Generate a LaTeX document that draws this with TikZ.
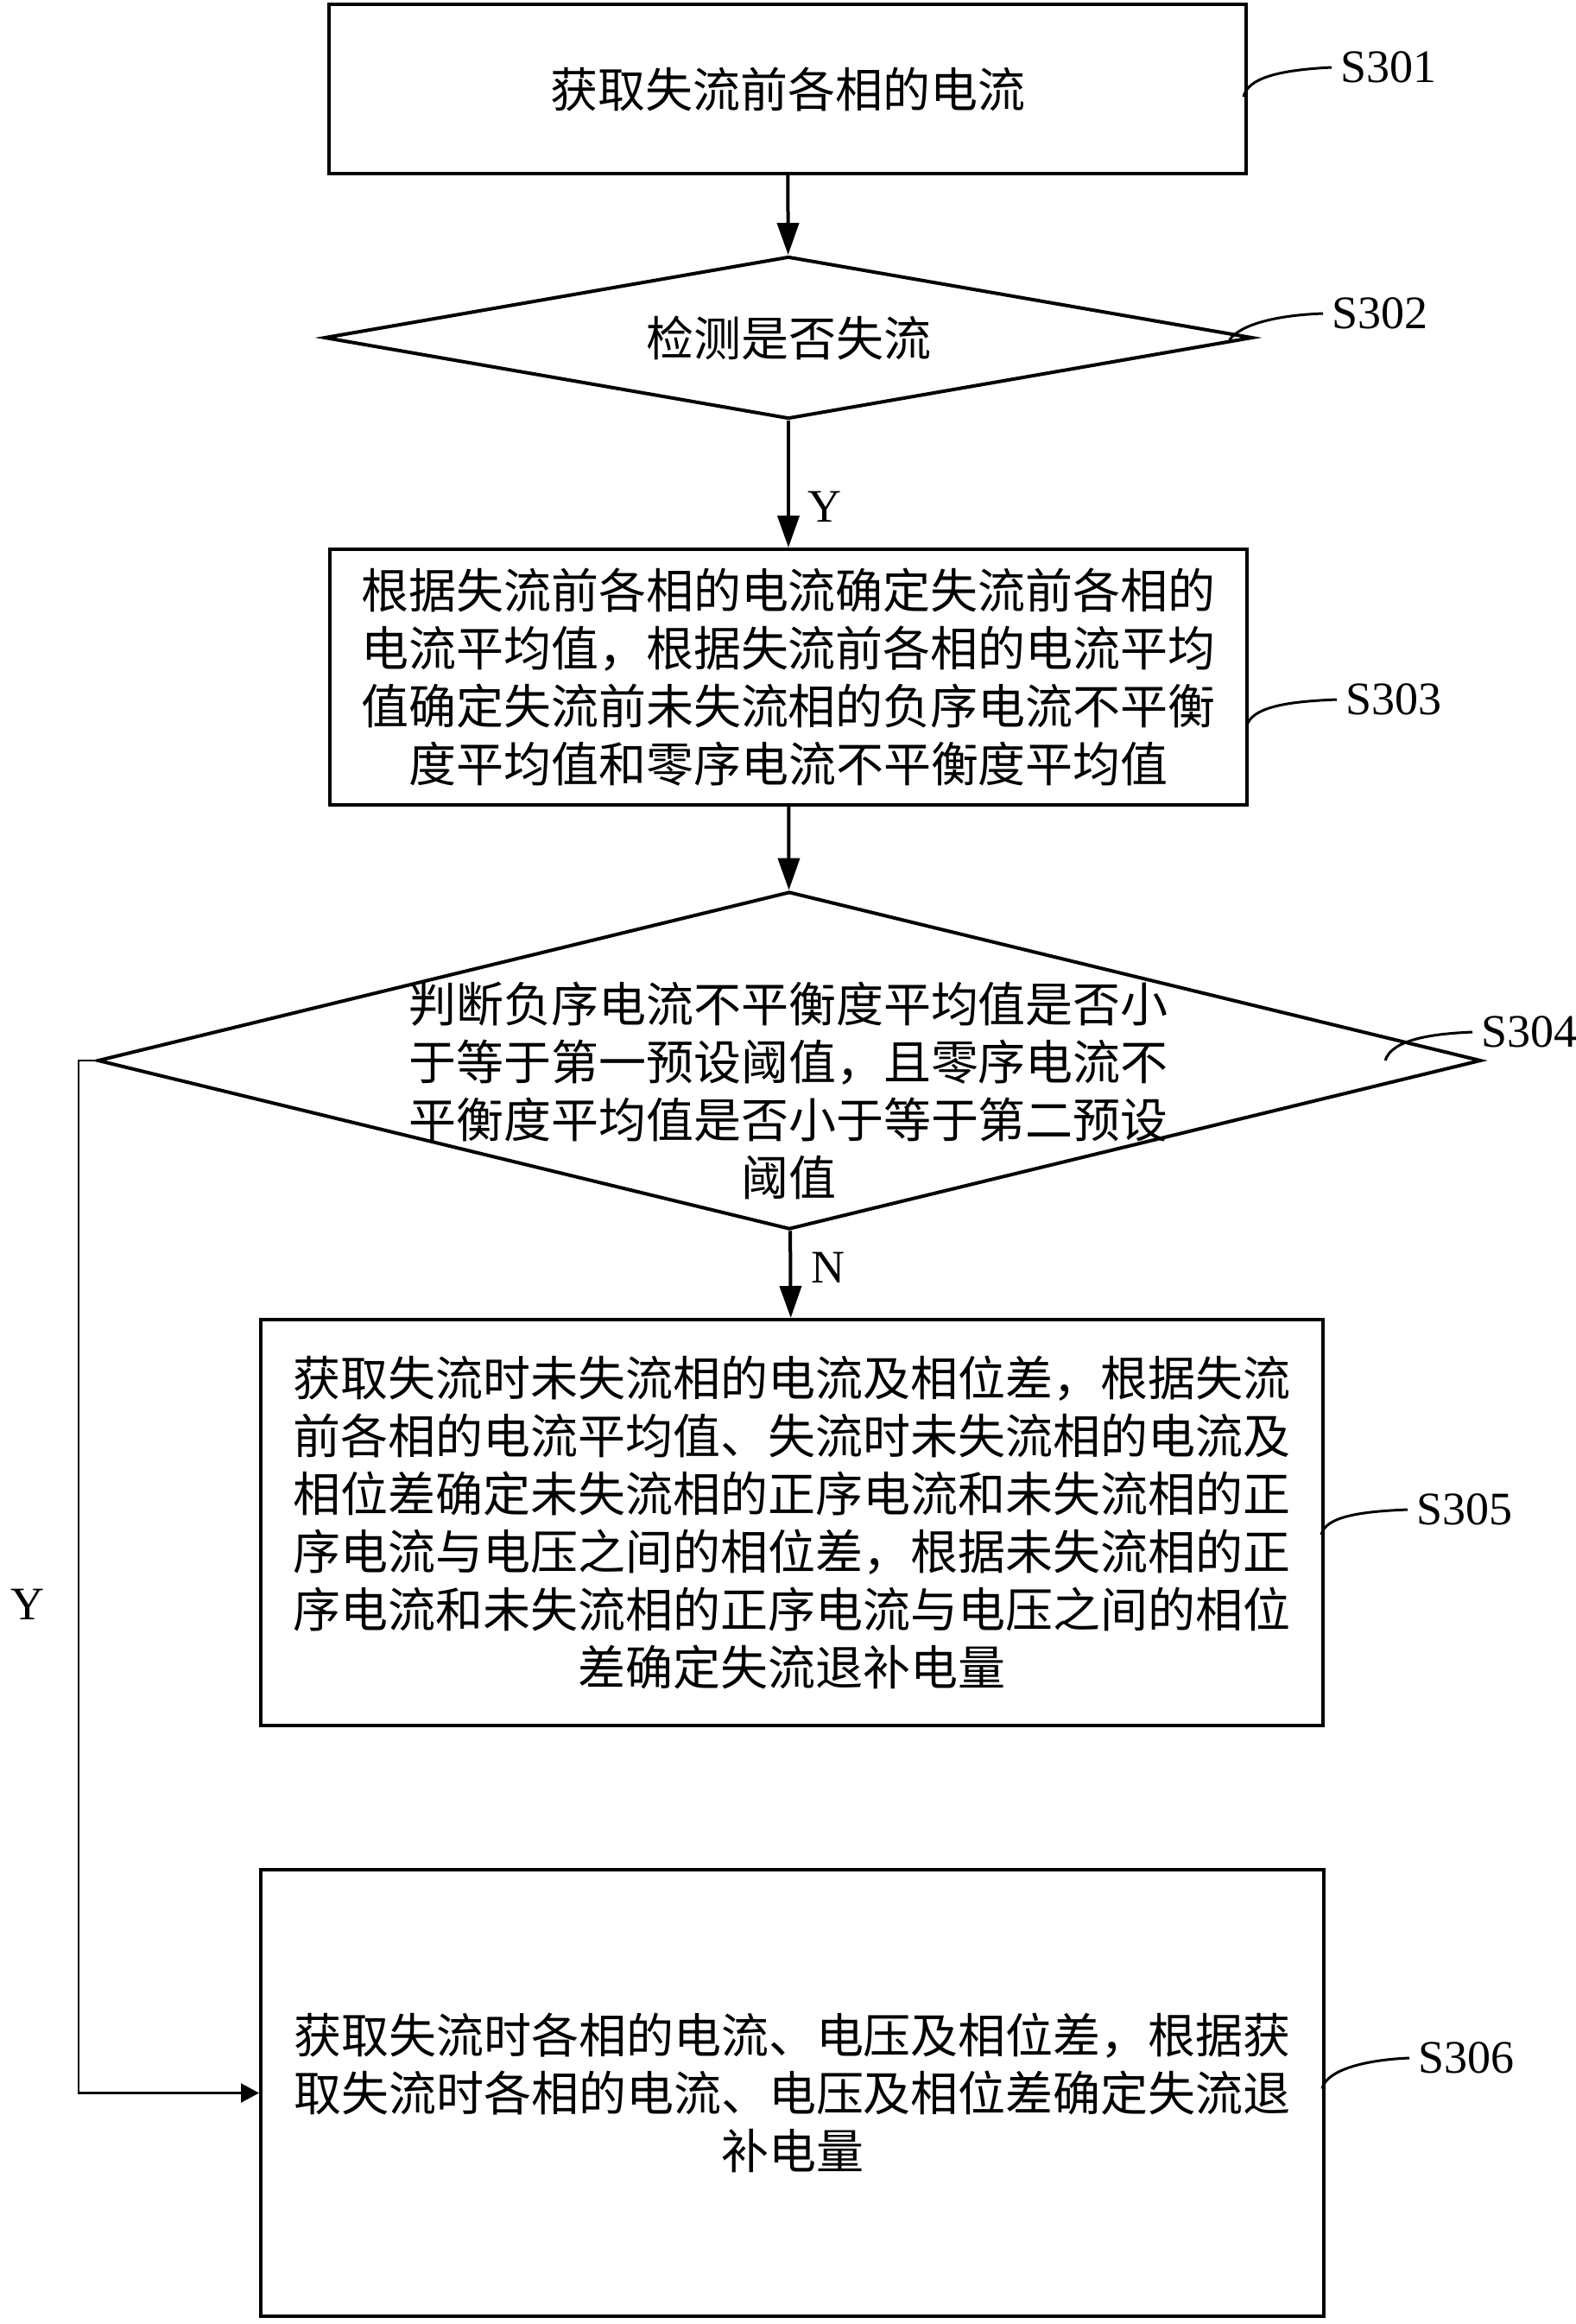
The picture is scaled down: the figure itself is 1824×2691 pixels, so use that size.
\documentclass[tikz,border=0pt]{standalone}
\usepackage{fontspec}
\setmainfont{Liberation Serif}
\newfontfamily\cjk{Noto Sans CJK SC}
\usetikzlibrary{shapes.geometric,arrows.meta,positioning}
\newcommand{\cjktext}{\cjk\fontsize{13.75}{16.75}\selectfont}

\begin{document}
\begin{tikzpicture}[x=0.25pt,y=-0.25pt,->,>={Triangle[length=9.25pt,width=6.25pt]},
                    line width=1pt, font=\fontsize{13.5}{16}\selectfont]
  \tikzstyle{box}=[draw, rectangle, inner sep=0pt, align=center, font=\cjktext]
  \tikzstyle{decision}=[draw, diamond, inner sep=0pt]
  \tikzstyle{txt}=[align=center, inner sep=0pt, font=\cjktext]
  \tikzstyle{stepno}=[anchor=west, inner sep=2pt]
  \tikzstyle{leader}=[-, line width=0.75pt]
  \tikzstyle{branch}=[line width=0.55pt, -{Triangle[length=5.25pt,width=5.5pt]}]

  \useasboundingbox (0,0) rectangle (1824,2691);

  \node[box, minimum width=265.5pt, minimum height=49pt] (A) at (912,103) {获取失流前各相的电流};
  \node[decision, minimum width=268.75pt, minimum height=47pt] (B) at (913,391) {};
  \node[txt] (Bt) at (B) {检测是否失流};
  \node[box, minimum width=265.5pt, minimum height=74pt] (C) at (913,784)
    {根据失流前各相的电流确定失流前各相的\\电流平均值，根据失流前各相的电流平均\\值确定失流前未失流相的负序电流不平衡\\度平均值和零序电流不平衡度平均值};
  \node[decision, minimum width=400.5pt, minimum height=97.75pt] (D) at (914,1228) {};
  \node[txt] (Dt) at (913,1263)
    {判断负序电流不平衡度平均值是否小\\于等于第一预设阈值，且零序电流不\\平衡度平均值是否小于等于第二预设\\阈值};
  \node[box, minimum width=307.5pt, minimum height=117.5pt] (E) at (917,1763)
    {获取失流时未失流相的电流及相位差，根据失流\\前各相的电流平均值、失流时未失流相的电流及\\相位差确定未失流相的正序电流和未失流相的正\\序电流与电压之间的相位差，根据未失流相的正\\序电流和未失流相的正序电流与电压之间的相位\\差确定失流退补电量};
  \node[box, minimum width=307.75pt, minimum height=129.25pt] (F) at (917.5,2423.5)
    {获取失流时各相的电流、电压及相位差，根据获\\取失流时各相的电流、电压及相位差确定失流退\\补电量};

  \node[stepno] (SA) at (1542,78) {S301};
  \node[stepno] (SB) at (1532,363) {S302};
  \node[stepno] (SC) at (1548,810) {S303};
  \node[stepno] (SD) at (1705,1195) {S304};
  \node[stepno] (SE) at (1630,1748) {S305};
  \node[stepno] (SF) at (1632,2383) {S306};
  \node (Yl) at (32,1858) {Y};

  \draw (A) -- (B);
  \draw (B) -- node[pos=0.68, anchor=west, inner sep=0pt, xshift=5pt] (y1) {Y} (C);
  \draw (C) -- (D);
  \draw (D) -- node[pos=0.42, anchor=west, inner sep=0pt, xshift=5.5pt] (n1) {N} (E);
  \draw[branch] (D.west) -- ++(-20,0) |- (F.west);

  \draw[leader] ([shift={(-5,9)}]A.east) .. controls +(5,-22) and +(-60,3) .. (SA.west);
  \draw[leader] ([shift={(-29,3)}]B.east) .. controls +(12,-18) and +(-55,2) .. (SB.west);
  \draw[leader] ([shift={(-1,53)}]C.east) .. controls +(10,-20) and +(-50,2) .. (SC.west);
  \draw[leader] ([shift={(-113,0)}]D.east) .. controls +(8,-25) and +(-45,2) .. (SD.west);
  \draw[leader] ([shift={(-4,14)}]E.east) .. controls +(5,-22) and +(-50,2) .. (SE.west);
  \draw[leader] ([shift={(-4,-5)}]F.east) .. controls +(5,-22) and +(-50,2) .. (SF.west);

\end{tikzpicture}
\end{document}
